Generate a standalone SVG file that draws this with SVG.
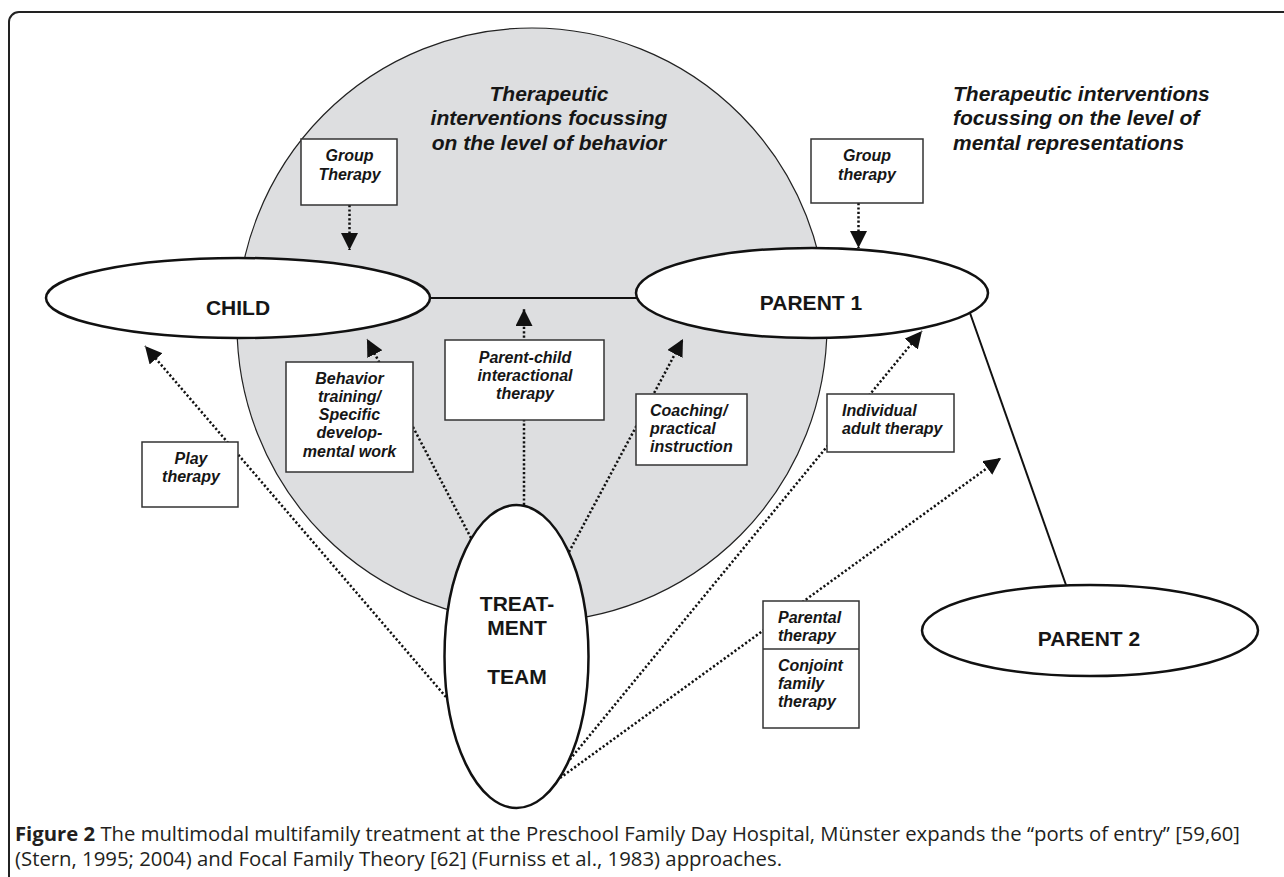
<svg xmlns="http://www.w3.org/2000/svg" width="1284" height="877" viewBox="0 0 1284 877">
<defs>
<style>
.lbl{font-family:"Liberation Sans",Arial,sans-serif;font-weight:bold;font-size:21px;fill:#161616;text-anchor:middle}
.ttl{font-family:"Liberation Sans",Arial,sans-serif;font-weight:bold;font-style:italic;font-size:21px;fill:#161616}
.bx{font-family:"Liberation Sans",Arial,sans-serif;font-weight:bold;font-style:italic;font-size:16px;fill:#161616}
.mid{text-anchor:middle}
.node{fill:#fff;stroke:#111;stroke-width:2.5}
.box{fill:#fff;stroke:#333;stroke-width:1.5}
.solid{stroke:#111;stroke-width:2;fill:none}
.dot{stroke:#111;stroke-width:2.5;stroke-dasharray:2.2 2.2;fill:none}
.arr{marker-end:url(#ah)}
.cap{font-family:"Open Sans","Noto Sans",sans-serif;font-size:20px;fill:#231f20}
</style>
<marker id="ah" markerUnits="userSpaceOnUse" markerWidth="18" markerHeight="18" refX="17" refY="8.5" orient="auto">
<path d="M0,0 L17,8.5 L0,17 Z" fill="#111"/>
</marker>
</defs>
<rect width="1284" height="877" fill="#fff"/>
<rect x="9" y="12" width="1320" height="920" rx="10" fill="none" stroke="#222" stroke-width="2"/>

<g id="behavior-zone">
<ellipse cx="532" cy="325" rx="295" ry="297" fill="#dddee0" stroke="#222" stroke-width="1.2"/>
<text class="ttl mid" x="549" y="101">Therapeutic</text>
<text class="ttl mid" x="549" y="125">interventions focussing</text>
<text class="ttl mid" x="549" y="150">on the level of behavior</text>
</g>
<g id="mental-title">
<text class="ttl" x="953" y="101">Therapeutic interventions</text>
<text class="ttl" x="953" y="125">focussing on the level of</text>
<text class="ttl" x="953" y="150">mental representations</text>
</g>

<g id="connectors">
<line class="solid" x1="429" y1="298" x2="636" y2="298"/>
<line class="solid" x1="970" y1="313" x2="1066" y2="585"/>
<line class="dot arr" x1="349.5" y1="205" x2="349.5" y2="250"/>
<line class="dot arr" x1="858.5" y1="203" x2="858.5" y2="248"/>
<line class="dot arr" x1="471" y1="538" x2="367" y2="339"/>
<line class="dot arr" x1="524" y1="505" x2="524" y2="309"/>
<line class="dot arr" x1="569" y1="552" x2="683" y2="339"/>
<line class="dot arr" x1="446" y1="697" x2="145" y2="346"/>
<line class="dot arr" x1="567" y1="763" x2="922" y2="331"/>
<line class="dot arr" x1="560" y1="778" x2="1001" y2="458"/>
</g>

<g id="child">
<ellipse class="node" cx="238" cy="298" rx="192" ry="40"/>
<text class="lbl" x="238" y="315">CHILD</text>
</g>
<g id="parent1">
<ellipse class="node" cx="812" cy="293" rx="176" ry="45"/>
<text class="lbl" x="811" y="310">PARENT 1</text>
</g>
<g id="parent2">
<ellipse class="node" cx="1090" cy="630.5" rx="168" ry="45.5"/>
<text class="lbl" x="1089" y="646">PARENT 2</text>
</g>
<g id="treatment-team">
<ellipse class="node" cx="516.5" cy="656.5" rx="72" ry="151.5"/>
<text class="lbl" x="517" y="611">TREAT-</text>
<text class="lbl" x="517" y="635">MENT</text>
<text class="lbl" x="517" y="684">TEAM</text>
</g>

<g id="group-therapy-child">
<rect class="box" x="301" y="139" width="96" height="66"/>
<text class="bx mid" x="349.5" y="161">Group</text>
<text class="bx mid" x="349.5" y="180">Therapy</text>
</g>
<g id="group-therapy-parent">
<rect class="box" x="811" y="139" width="112" height="64"/>
<text class="bx mid" x="867" y="161">Group</text>
<text class="bx mid" x="867" y="180">therapy</text>
</g>
<g id="behavior-training">
<rect class="box" x="286" y="362" width="127" height="110"/>
<text class="bx mid" x="349.5" y="384">Behavior</text>
<text class="bx mid" x="349.5" y="402">training/</text>
<text class="bx mid" x="349.5" y="420">Specific</text>
<text class="bx mid" x="349.5" y="438">develop-</text>
<text class="bx mid" x="349.5" y="457">mental work</text>
</g>
<g id="parent-child">
<rect class="box" x="445" y="340" width="159" height="80"/>
<text class="bx mid" x="525" y="363">Parent-child</text>
<text class="bx mid" x="525" y="381">interactional</text>
<text class="bx mid" x="525" y="399">therapy</text>
</g>
<g id="coaching">
<rect class="box" x="636" y="394" width="111" height="71"/>
<text class="bx" x="650" y="416">Coaching/</text>
<text class="bx" x="650" y="434">practical</text>
<text class="bx" x="650" y="452">instruction</text>
</g>
<g id="play-therapy">
<rect class="box" x="142" y="442" width="96" height="65"/>
<text class="bx mid" x="191" y="464">Play</text>
<text class="bx mid" x="191" y="482">therapy</text>
</g>
<g id="individual-adult">
<rect class="box" x="827" y="394" width="127" height="58"/>
<text class="bx" x="842" y="416">Individual</text>
<text class="bx" x="842" y="434">adult therapy</text>
</g>
<g id="parental-conjoint">
<rect class="box" x="763" y="601" width="96" height="127"/>
<line x1="763" y1="649" x2="859" y2="649" stroke="#333" stroke-width="1.5"/>
<text class="bx" x="778" y="623">Parental</text>
<text class="bx" x="778" y="641">therapy</text>
<text class="bx" x="778" y="671">Conjoint</text>
<text class="bx" x="778" y="689">family</text>
<text class="bx" x="778" y="707">therapy</text>
</g>

<g id="caption">
<text class="cap" x="15" y="841" textLength="1225" lengthAdjust="spacingAndGlyphs"><tspan font-weight="bold">Figure 2</tspan> The multimodal multifamily treatment at the Preschool Family Day Hospital, Münster expands the “ports of entry” [59,60]</text>
<text class="cap" x="15" y="866" textLength="767" lengthAdjust="spacingAndGlyphs">(Stern, 1995; 2004) and Focal Family Theory [62] (Furniss et al., 1983) approaches.</text>
</g>
</svg>
